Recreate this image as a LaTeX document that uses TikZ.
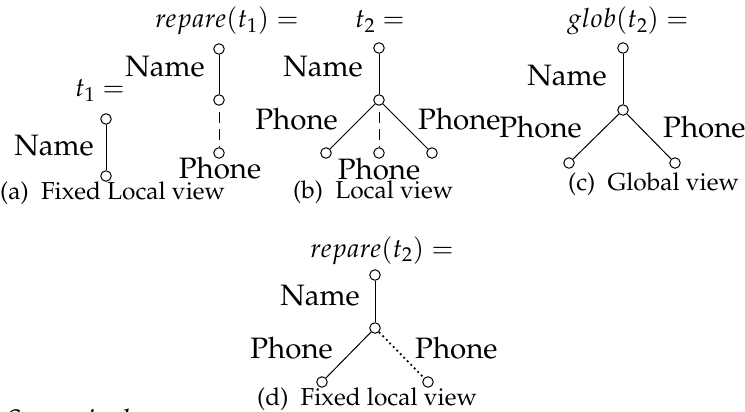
\documentclass[tikz,border=0pt]{standalone}
\usepackage[T1]{fontenc}
\usepackage{mathpazo}
\tikzset{
  vtx/.style={circle,draw,fill=white,inner sep=0pt,minimum size=10.5pt,line width=1pt},
  edg/.style={line width=1pt},
  dsh/.style={line width=1pt,dash pattern=on 11pt off 6pt,dash phase=11pt},
  dts/.style={line width=1.8pt,dash pattern=on 1.8pt off 3.2pt},
  lbl/.style={inner sep=0pt,font=\fontsize{29.5}{32}\selectfont},
  mlbl/.style={inner sep=0pt,font=\fontsize{26.5}{29}\selectfont,anchor=base west},
  capt/.style={inner sep=0pt,font=\fontsize{24.5}{27}\selectfont,anchor=base west},
}
\begin{document}
\begin{tikzpicture}[x=1pt,y=-1pt]
\useasboundingbox (0,0) rectangle (745,412);
\clip (0,0) rectangle (745,412);
% (a) t1
\node[mlbl] (t1eq) at (75,97) {$t_1 =$};
\node[vtx] (a1) at (106,119) {};
\node[vtx] (a2) at (106,176) {};
\draw[edg] (a1) -- (a2);
\node[lbl,anchor=base east] (aname) at (94,155) {Name};
% repare(t1)
\node[mlbl] (rt1eq) at (155,28) {$repare(t_1) =$};
\node[vtx] (r1) at (219,49) {};
\node[vtx] (r2) at (219,100) {};
\node[vtx] (r3) at (219,153) {};
\draw[edg] (r1) -- (r2);
\draw[dsh] (r2) -- (r3);
\node[lbl,anchor=base east] (rname) at (205,77) {Name};
\node[lbl,anchor=base] (rphone) at (220,178) {Phone};
\node[capt] (capa) at (0,199) {(a)\hspace{0.5em}Fixed Local view};
% (b) t2
\node[mlbl] (t2eq) at (355,28) {$t_2 =$};
\node[vtx] (b0) at (379,48) {};
\node[vtx] (b1) at (379,100) {};
\node[vtx] (b2) at (326,153) {};
\node[vtx] (b3) at (379,153) {};
\node[vtx] (b4) at (432,153) {};
\draw[edg] (b0) -- (b1);
\draw[edg] (b1) -- (b2);
\draw[dsh] (b1) -- (b3);
\draw[edg] (b1) -- (b4);
\node[lbl,anchor=base east] (bname) at (363,77) {Name};
\node[lbl,anchor=base east] (bphl) at (338,129) {Phone};
\node[lbl,anchor=base west] (bphr) at (418,129) {Phone};
\node[lbl,anchor=base] (bphm) at (379,179) {Phone};
\node[capt] (capb) at (293,198) {(b)\hspace{0.5em}Local view};
% (c) glob(t2)
\node[mlbl] (gt2eq) at (567,28) {$glob(t_2) =$};
\node[vtx] (c0) at (623,48) {};
\node[vtx] (c1) at (623,110) {};
\node[vtx] (c2) at (569,163) {};
\node[vtx] (c3) at (675,163) {};
\draw[edg] (c0) -- (c1);
\draw[edg] (c1) -- (c2);
\draw[edg] (c1) -- (c3);
\node[lbl,anchor=base east] (cname) at (607,86) {Name};
\node[lbl,anchor=base east] (cphl) at (582,138) {Phone};
\node[lbl,anchor=base west] (cphr) at (663,138) {Phone};
\node[capt] (capc) at (568,190) {(c)\hspace{0.5em}Global view};
% (d) repare(t2)
\node[mlbl] (rt2eq) at (310,257) {$repare(t_2) =$};
\node[vtx] (d0) at (375,275) {};
\node[vtx] (d1) at (375,328) {};
\node[vtx] (d2) at (322,382) {};
\node[vtx] (d3) at (428,382) {};
\draw[edg] (d0) -- (d1);
\draw[edg] (d1) -- (d2);
\draw[dts] (d1) -- (d3);
\node[lbl,anchor=base east] (dname) at (360,305) {Name};
\node[lbl,anchor=base east] (dphl) at (333,358) {Phone};
\node[lbl,anchor=base west] (dphr) at (415,358) {Phone};
\node[capt] (capd) at (257,405) {(d)\hspace{0.5em}Fixed local view};
% cut-off text at the bottom
\node[lbl,anchor=base west] (scen) at (5,430) {\textit{Scenario d}};
\end{tikzpicture}
\end{document}
